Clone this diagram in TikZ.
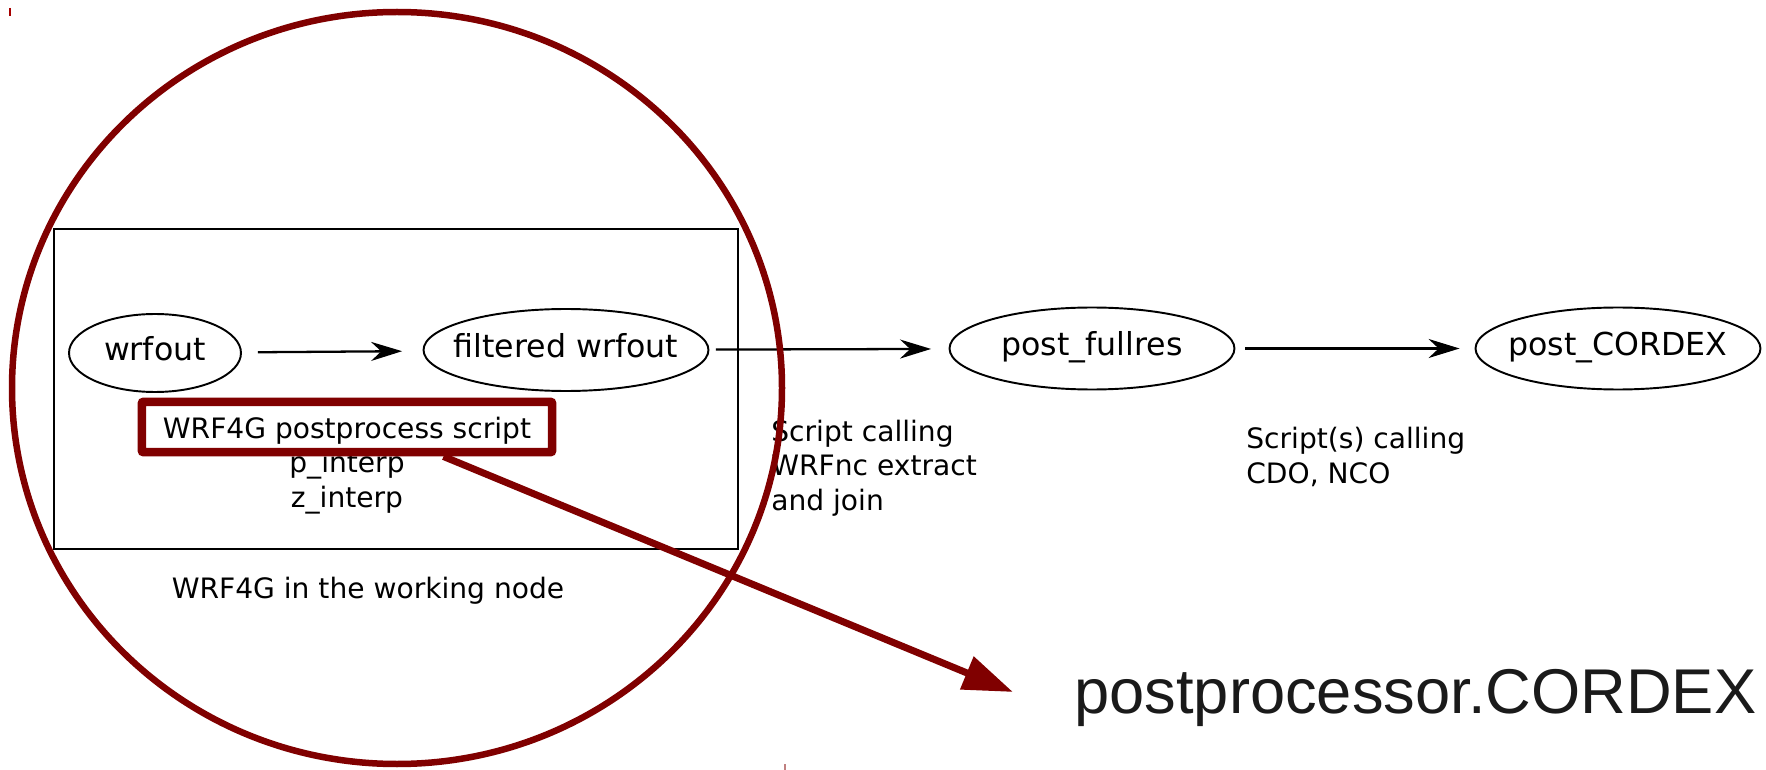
\documentclass[tikz,border=0pt]{standalone}
\usepackage{fontspec}
\setmainfont{DejaVu Sans}
\newfontfamily\liberation{Liberation Sans}
\usetikzlibrary{arrows.meta,shapes.geometric}

\definecolor{hilite}{HTML}{800000}
\definecolor{bigtext}{HTML}{1A1A1A}

\tikzset{
  proc/.style={draw, ellipse, line width=1.1pt, inner ysep=0pt, inner xsep=-0.6cm,
    minimum width=5.7cm, minimum height=1.64cm,
    font=\fontsize{18}{22}\selectfont, text height=12.9pt, text depth=4.5pt},
  flow/.style={-{Stealth[length=0.62cm,width=0.38cm]}, line width=1.3pt},
  note/.style={font=\fontsize{16}{19.6}\selectfont, inner sep=0pt},
  postbox/.style={draw=hilite, line width=0.17cm, rounded corners=0.04cm,
    inner sep=0pt, minimum width=8.21cm, minimum height=1.01cm,
    font=\fontsize{16}{19.6}\selectfont, text height=15.2pt, text depth=1.6pt},
  pointer/.style={hilite, line width=0.14cm, -{Triangle[length=1cm,width=0.68cm]}}
}

\begin{document}
\begin{tikzpicture}[x=0.02cm, y=-0.02cm]
  \useasboundingbox (0,0) rectangle (1766,770);

  % cluster of the working node
  \draw[line width=1.2pt] (54,229) rectangle (738,549);
  \node[note, anchor=base] (clusterlabel) at (368,598) {WRF4G in the working node};

  % the chain of files
  \node[proc, minimum width=3.44cm, minimum height=1.56cm] (wrfout) at (155,353) {wrfout};
  \node[proc] (filtered) at (566,350) {filtered wrfout};
  \node[proc] (fullres) at (1092,348.5) {post\_fullres};
  \node[proc] (cordex) at (1618,348.5) {post\_CORDEX};

  \draw[flow, shorten <=0.32cm, shorten >=0.41cm] (wrfout) -- (filtered);
  \draw[flow, shorten <=0.13cm, shorten >=0.35cm] (filtered) -- (fullres);
  \draw[flow, shorten <=0.2cm, shorten >=0.3cm] (fullres) -- (cordex);

  % multi-line labels sit on their last baseline
  \node[note, anchor=base west, align=left] (joinlabel) at (771,510)
    {Script calling\\WRFnc extract\\and join};
  \node[note, anchor=base west, align=left] (cdolabel) at (1246,483)
    {Script(s) calling\\CDO, NCO};
  \node[note, anchor=base, align=center] (interp) at (347,507)
    {p\_interp\\z\_interp};

  % highlight
  \draw[hilite, line width=0.13cm] (397,388) ellipse [x radius=385, y radius=376];
  \node[postbox] (script) at (347,427) {WRF4G postprocess script};

  \node[font=\liberation\fontsize{36}{43}\selectfont, text=bigtext,
    anchor=base west, inner sep=0pt] (pp) at (1074,713) {postprocessor.CORDEX};
  \coordinate (cordextip) at (1013,692);
  \draw[pointer] (script.-17) -- (cordextip);

  % small marks
  \draw[hilite!70!red, line width=0.03cm] (10,8) -- (10,16);
  \draw[hilite!50!white, line width=0.04cm] (785,764) -- (785,770);
\end{tikzpicture}
\end{document}
